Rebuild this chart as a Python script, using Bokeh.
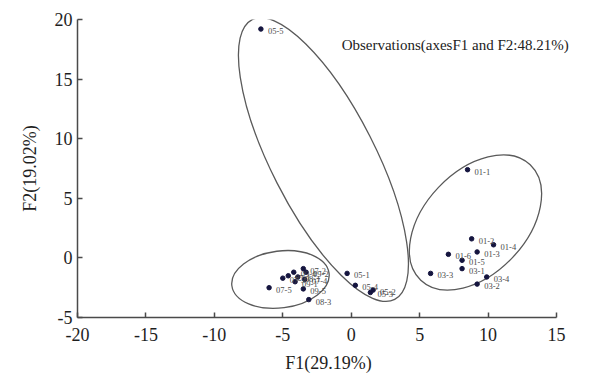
import numpy as np
from bokeh.plotting import figure
from bokeh.models import ColumnDataSource, FixedTicker, Label, Range1d, PrintfTickFormatter
from bokeh.core.properties import value
from bokeh.embed import file_html
from bokeh.resources import INLINE

# ---- data ----
obs_labels = ["05-5",
              "01-1", "01-2", "01-4", "01-3", "01-6", "01-5", "03-1", "03-3", "03-4", "03-2",
              "05-1", "05-4", "05-2", "05-3",
              "07-5", "07-3", "07-1", "09-4", "07-2", "09-2", "07-4", "09-1", "08-1", "09-5", "08-3"]
f1_scores = [-6.6,
             8.5, 8.8, 10.4, 9.2, 7.1, 8.1, 8.1, 5.8, 9.9, 9.2,
             -0.3, 0.3, 1.6, 1.4,
             -6.0, -5.0, -4.6, -4.2, -3.5, -3.3, -3.4, -4.1, -3.9, -3.5, -3.1]
f2_scores = [19.2,
             7.4, 1.6, 1.1, 0.5, 0.3, -0.2, -0.9, -1.3, -1.6, -2.2,
             -1.3, -2.3, -2.7, -2.9,
             -2.5, -1.7, -1.5, -1.2, -0.9, -1.2, -1.8, -2.0, -1.6, -2.6, -3.5]

# group ellipses: centre (data), axes lengths (screen px), rotation (deg)
ell_cx = [-2.03, 9.08, -5.17]
ell_cy = [8.25, 2.97, -1.81]
ell_w = [314, 159, 98]
ell_h = [104, 102, 57]
ell_deg = [-63.0, 46.5, 7.4]

x_ticks = [-20, -15, -10, -5, 0, 5, 10, 15]
y_ticks = [-5, 0, 5, 10, 15, 20]
x_title = "F1(29.19%)"
y_title = "F2(19.02%)"
chart_title = "Observations(axesF1 and F2:48.21%)"

FONT = "Liberation Serif"

p = figure(width=605, height=378, output_backend="svg", toolbar_location=None,
           x_range=Range1d(-20, 16.68), y_range=Range1d(-5, 20),
           min_border_left=77, min_border_right=26, min_border_top=19, min_border_bottom=61)
p.outline_line_color = None
p.xgrid.visible = False
p.ygrid.visible = False
p.background_fill_color = "white"

for ax, ticks in ((p.xaxis, x_ticks), (p.yaxis, y_ticks)):
    ax.ticker = FixedTicker(ticks=ticks)
    ax.formatter = PrintfTickFormatter(format="%d")
    ax.axis_line_color = "#4a4a4a"
    ax.axis_line_width = 1.5
    ax.major_tick_line_color = "#4a4a4a"
    ax.major_tick_line_width = 1.5
    ax.major_tick_in = 5
    ax.major_tick_out = 0
    ax.minor_tick_line_color = None
    ax.major_label_text_font = FONT
    ax.major_label_text_font_size = "18px"
    ax.major_label_text_color = "#1e1e1e"
    ax.axis_label_text_font = FONT
    ax.axis_label_text_font_size = "18px"
    ax.axis_label_text_font_style = "normal"
    ax.axis_label_text_color = "#1e1e1e"

p.xaxis.bounds = (x_ticks[0], x_ticks[-1])
p.xaxis.axis_label = x_title
p.yaxis.axis_label = y_title
p.xaxis.major_label_standoff = 10
p.yaxis.major_label_standoff = 5
p.xaxis.axis_label_standoff = 9
p.yaxis.axis_label_standoff = 12

# ellipses
esrc = ColumnDataSource(dict(x=ell_cx, y=ell_cy, w=ell_w, h=ell_h,
                             a=[np.deg2rad(d) for d in ell_deg]))
p.ellipse(x="x", y="y", width="w", height="h", angle="a", source=esrc,
          width_units="screen", height_units="screen",
          fill_color=None, line_color="#5a5a5a", line_width=1.3)

# observations
src = ColumnDataSource(dict(x=f1_scores, y=f2_scores, lab=obs_labels))
p.scatter(x="x", y="y", source=src, size=4.5, color="#15153f")
p.text(x="x", y="y", text="lab", source=src, x_offset=7, y_offset=2,
       text_font=value(FONT), text_font_size="8.5px", text_color="#4a4a4a",
       text_baseline="middle", text_align="left")

p.add_layout(Label(x=-0.7, y=17.9, text=chart_title, text_font=FONT,
                   text_font_size="15px", text_color="#222222", text_baseline="middle"))

open("out.html", "w").write(file_html(p, INLINE))
